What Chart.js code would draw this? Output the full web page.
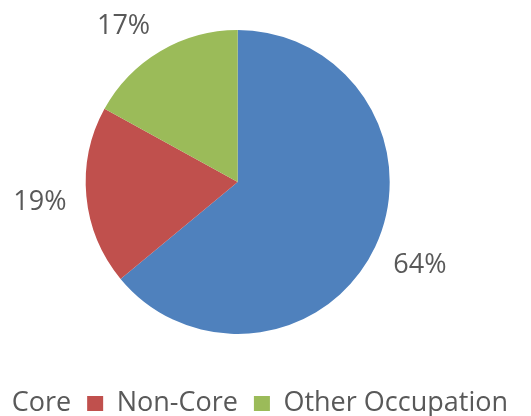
<!DOCTYPE html>
<html>
<head>
<meta charset="utf-8">
<script src="https://cdn.jsdelivr.net/npm/chart.js@4"></script>
<style>
  html, body { margin: 0; padding: 0; background: #fff; overflow: hidden; }
  #wrap { position: relative; width: 531px; height: 416px; overflow: hidden; }
  #pie { position: absolute; left: -60px; top: -10px; }
</style>
</head>
<body>
<div id="wrap">
  <canvas id="pie" width="600" height="437"></canvas>
</div>
<script>
// Chart data
const categories = ['Core', 'Non-Core', 'Other Occupation'];
const shares = [64, 19, 17];
const sliceColors = ['#4F81BD', '#C0504D', '#9BBB59'];

const textColor = '#595959';
const fontFamily = '"Open Sans", "DejaVu Sans", sans-serif';
const fontSize = 27;

// percent labels placed just outside each slice
const outsideLabels = {
    id: 'outsideLabels',
    afterDatasetsDraw(chart) {
        const ctx = chart.ctx;
        const meta = chart.getDatasetMeta(0);
        const digitH = fontSize * 0.714;
        ctx.save();
        ctx.font = fontSize + 'px ' + fontFamily;
        ctx.fillStyle = textColor;
        ctx.textAlign = 'center';
        ctx.textBaseline = 'alphabetic';
        meta.data.forEach((arc, i) => {
            const p = arc.getProps(['x', 'y', 'startAngle', 'endAngle', 'outerRadius'], true);
            const mid = (p.startAngle + p.endAngle) / 2;
            const r = p.outerRadius + 20;
            const ax = p.x + Math.cos(mid) * r;
            const ay = p.y + Math.sin(mid) * r;
            const text = shares[i] + '%';
            const w = ctx.measureText(text).width;
            const kx = Math.max(-1, Math.min(1, Math.cos(mid) * 2));
            const ky = Math.max(-1, Math.min(1, Math.sin(mid) * 2));
            const cx = ax + kx * w / 2;
            const cy = ay + ky * digitH / 2;
            ctx.fillText(text, cx, cy + digitH / 2);
        });
        ctx.restore();
    }
};

new Chart(document.getElementById('pie').getContext('2d'), {
    type: 'pie',
    data: {
        labels: categories,
        datasets: [{
            data: shares,
            backgroundColor: sliceColors,
            borderWidth: 0,
            radius: 152
        }]
    },
    options: {
        responsive: false,
        animation: false,
        layout: {
            padding: { left: 11.4, right: 16, top: 0, bottom: 0 }
        },
        plugins: {
            tooltip: { enabled: false },
            legend: {
                position: 'bottom',
                align: 'end',
                labels: {
                    color: textColor,
                    font: { family: fontFamily, size: fontSize },
                    boxWidth: 16,
                    boxHeight: 15,
                    padding: 16
                }
            }
        }
    },
    plugins: [outsideLabels]
});
</script>
</body>
</html>
